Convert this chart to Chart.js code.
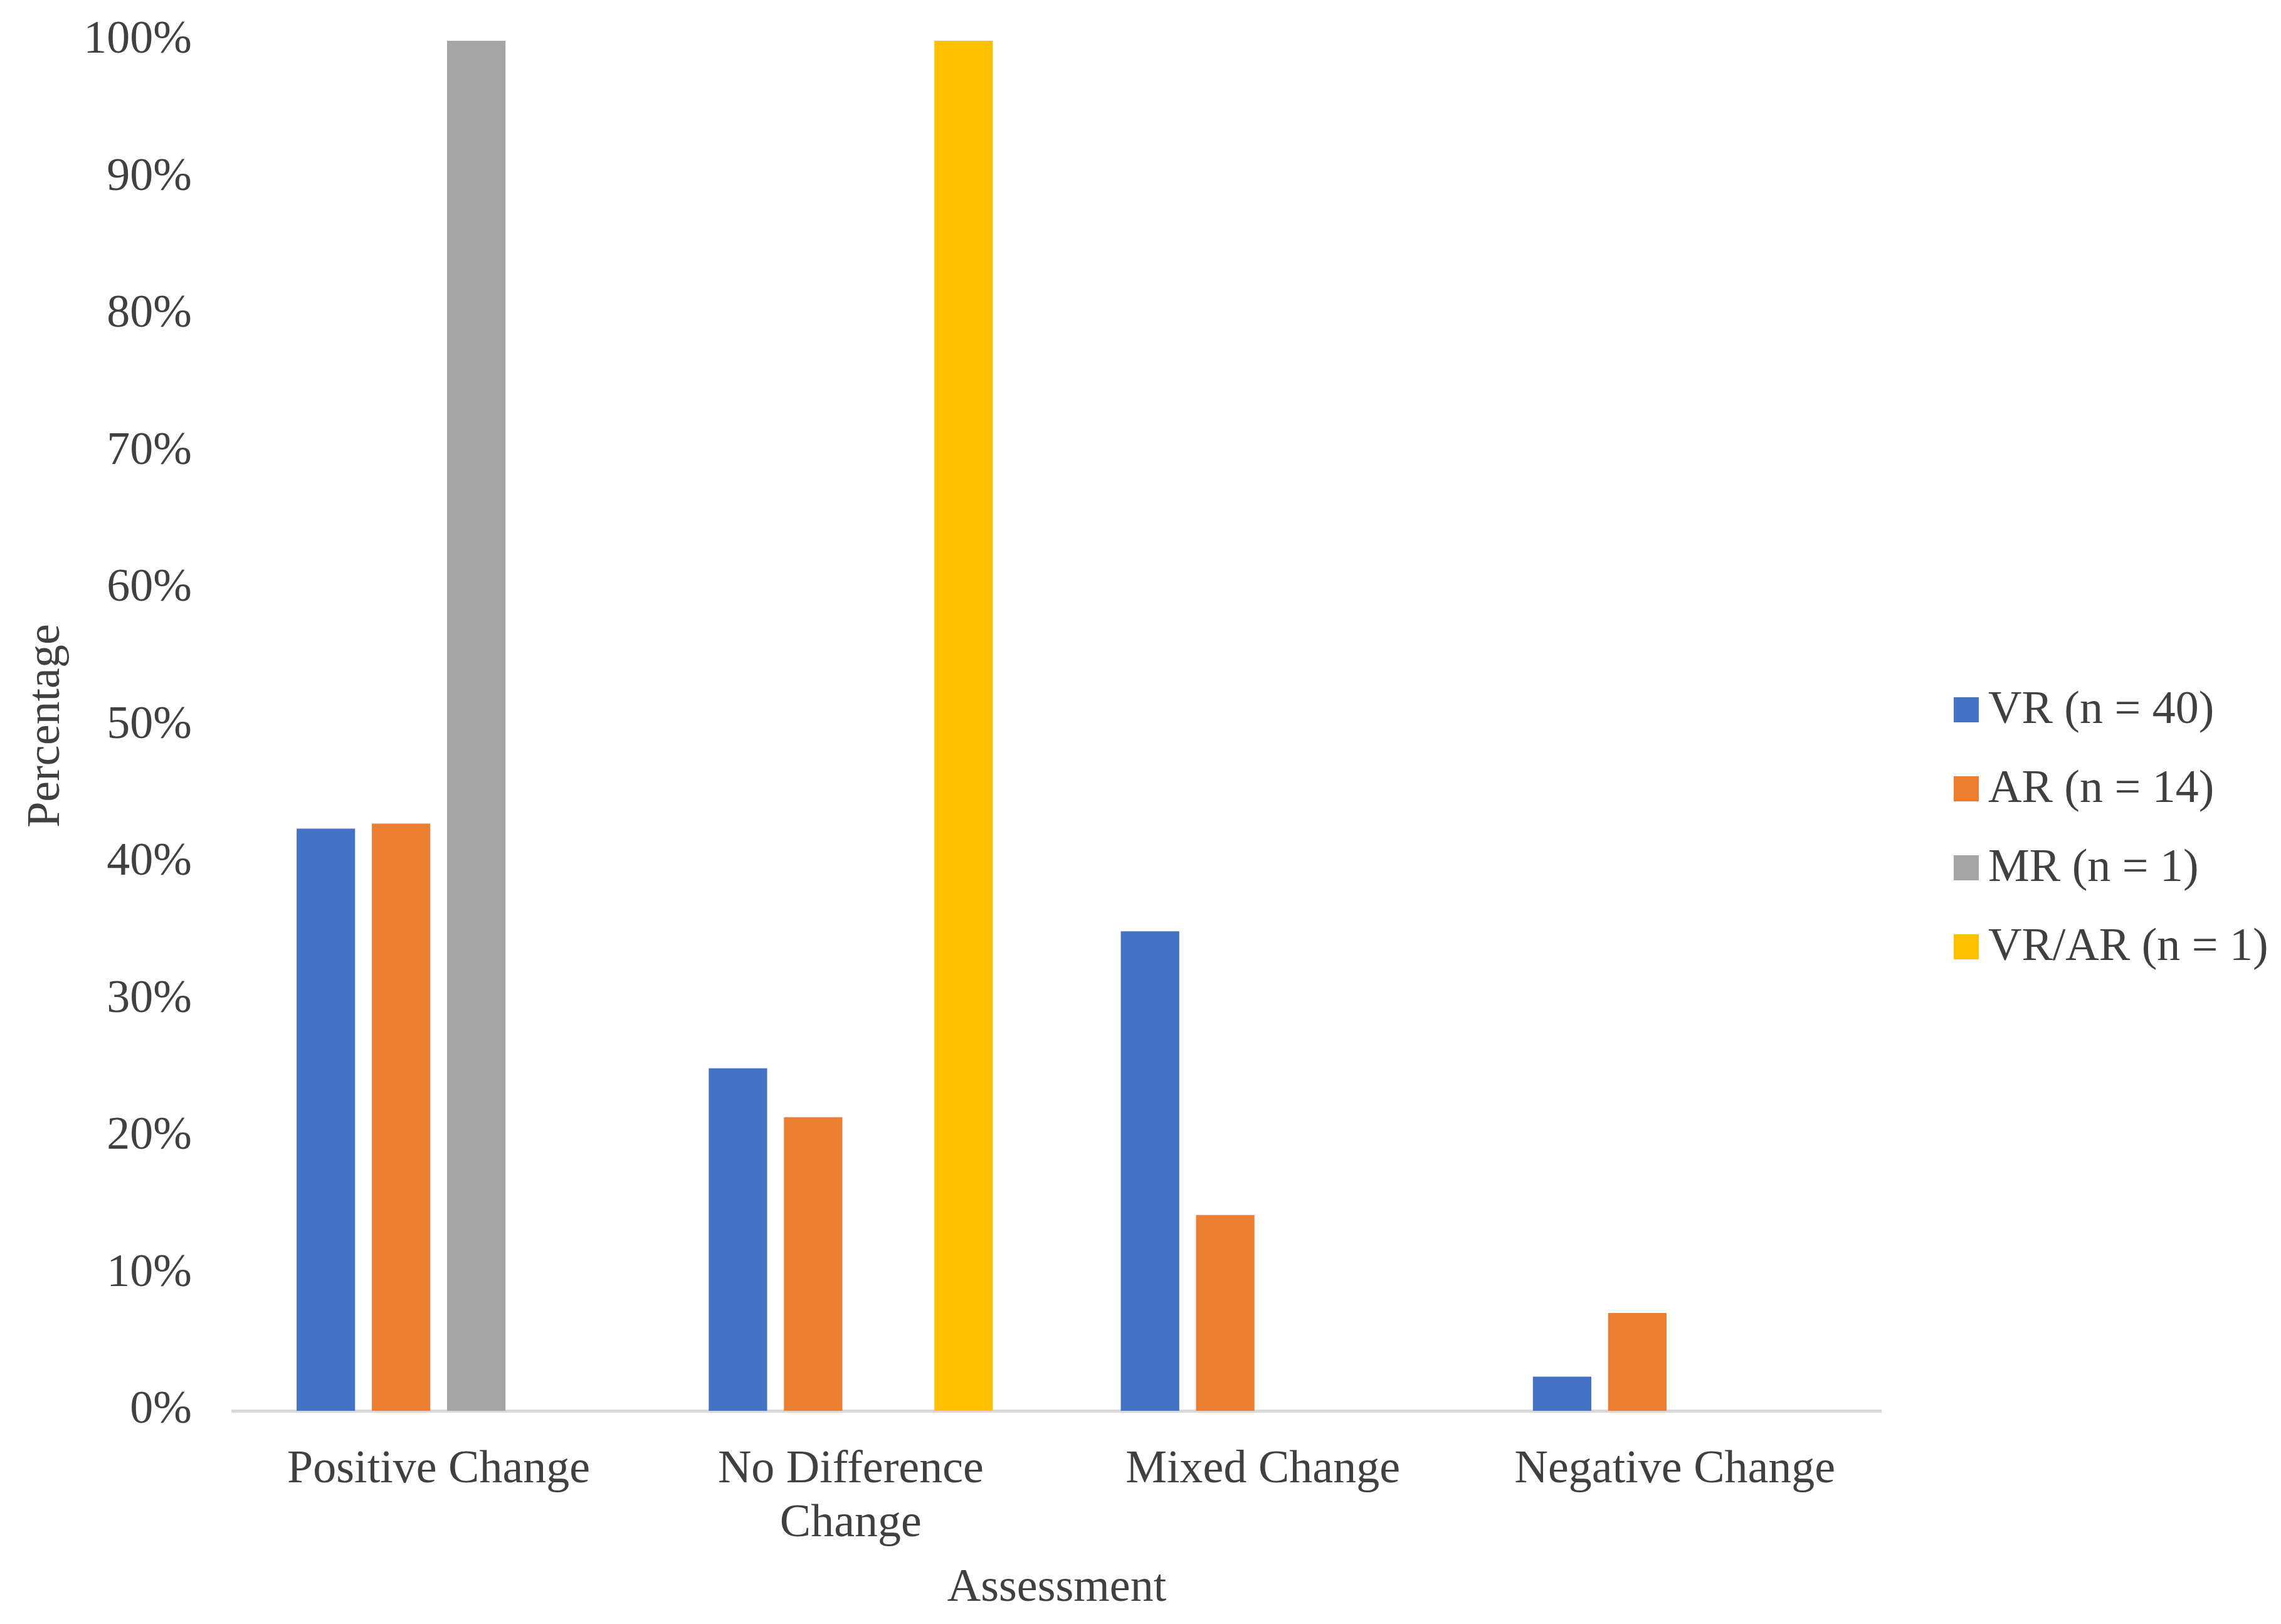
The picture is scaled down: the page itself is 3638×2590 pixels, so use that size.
<!DOCTYPE html>
<html>
<head>
<meta charset="utf-8">
<title>Assessment by reality type</title>
<script src="https://cdn.jsdelivr.net/npm/chart.js@4"></script>
<style>
  html, body { margin: 0; padding: 0; background: #ffffff; }
  #chartBox { width: 3638px; height: 2590px; }
</style>
</head>
<body>
<div id="chartBox"><canvas id="assessChart" width="3638" height="2590"></canvas></div>
<script>
var categories = ["Positive Change", ["No Difference", "Change"], "Mixed Change", "Negative Change"];
var seriesNames = ["VR (n = 40)", "AR (n = 14)", "MR (n = 1)", "VR/AR (n = 1)"];
var vrValues = [42.5, 25, 35, 2.5];
var arValues = [42.86, 21.43, 14.29, 7.14];
var mrValues = [100, 0, 0, 0];
var vrarValues = [0, 100, 0, 0];
var seriesColors = ["#4472C4", "#ED7D31", "#A5A5A5", "#FFC000"];

var fontFamily = "'Liberation Serif', 'Times New Roman', serif";
var textColor = "#404040";

// legend drawn by hand so it can sit away from the plot like the original
var sideLegend = {
    id: "sideLegend",
    afterDraw: function(chart) {
        var ctx = chart.ctx;
        var x = 3116;
        var y = 1132;
        ctx.save();
        ctx.font = "74px " + fontFamily;
        ctx.textBaseline = "middle";
        ctx.textAlign = "left";
        chart.data.datasets.forEach(function(ds, i) {
            var cy = y + i * 126;
            ctx.fillStyle = ds.backgroundColor;
            ctx.fillRect(x, cy - 20, 40, 40);
            ctx.fillStyle = textColor;
            ctx.fillText(ds.label, x + 55, cy + 2);
        });
        ctx.restore();
    }
};

var assessChart = new Chart(document.getElementById("assessChart"), {
    type: "bar",
    data: {
        labels: categories,
        datasets: [
            { label: seriesNames[0], data: vrValues, backgroundColor: seriesColors[0] },
            { label: seriesNames[1], data: arValues, backgroundColor: seriesColors[1] },
            { label: seriesNames[2], data: mrValues, backgroundColor: seriesColors[2] },
            { label: seriesNames[3], data: vrarValues, backgroundColor: seriesColors[3] }
        ]
    },
    options: {
        responsive: false,
        devicePixelRatio: 1,
        animation: false,
        categoryPercentage: 0.73,
        barPercentage: 0.777,
        layout: {
            padding: { top: 65, right: 638, bottom: 0, left: 0 }
        },
        plugins: {
            legend: { display: false },
            tooltip: { enabled: false }
        },
        scales: {
            x: {
                grid: { display: false, drawTicks: false },
                border: { display: true, color: "#D9D9D9", width: 5 },
                ticks: {
                    color: textColor,
                    padding: 52,
                    maxRotation: 0,
                    autoSkip: false,
                    font: { family: fontFamily, size: 74, lineHeight: 1.16 }
                },
                title: {
                    display: true,
                    text: "Assessment",
                    color: textColor,
                    padding: { top: 0, bottom: 12 },
                    font: { family: fontFamily, size: 74 }
                },
                afterFit: function(scale) {
                    scale.height = 340;
                }
            },
            y: {
                min: 0,
                max: 100,
                grid: { display: false, drawTicks: false },
                border: { display: false },
                ticks: {
                    stepSize: 10,
                    color: textColor,
                    padding: 65,
                    font: { family: fontFamily, size: 74 },
                    callback: function(value) {
                        return value + "%";
                    }
                },
                title: {
                    display: true,
                    text: "Percentage",
                    color: textColor,
                    padding: { top: 30, bottom: 0 },
                    font: { family: fontFamily, size: 74 }
                },
                afterFit: function(scale) {
                    scale.width = 371;
                    scale.paddingTop = 0;
                    scale.paddingBottom = 0;
                }
            }
        }
    },
    plugins: [sideLegend]
});
</script>
</body>
</html>
